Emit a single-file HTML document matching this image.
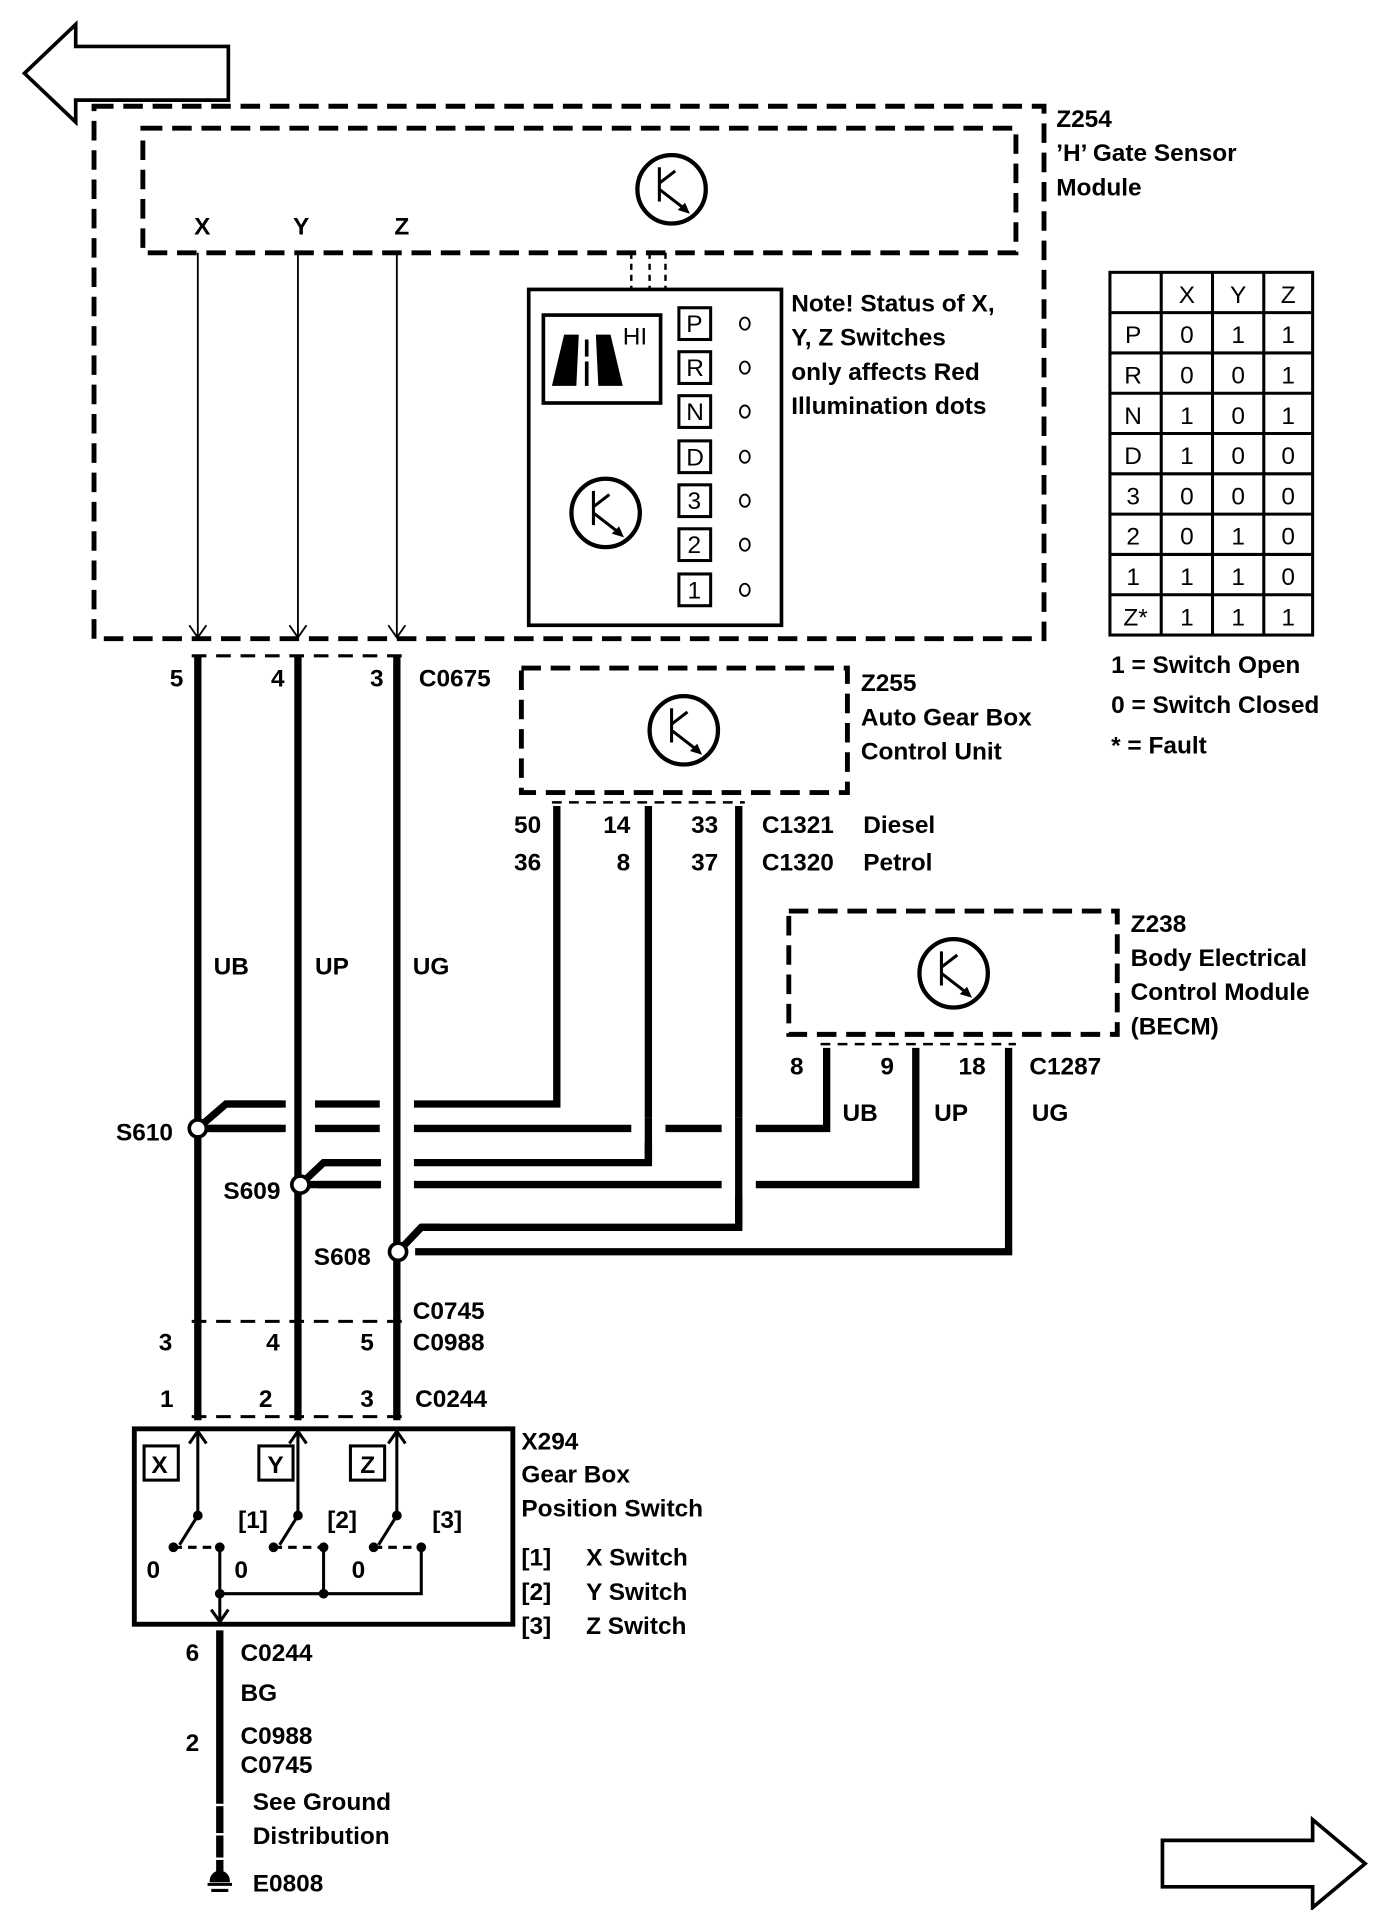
<!DOCTYPE html>
<html><head><meta charset="utf-8"><style>
html,body{margin:0;padding:0;background:#fff;}
svg{display:block}
text{font-family:"Liberation Sans",Arial,sans-serif;font-weight:bold;font-size:20px;fill:#000}
.r{font-weight:normal}
</style></head><body>
<svg width="1392" height="1910" viewBox="0 0 1140 1564" preserveAspectRatio="none" xmlns="http://www.w3.org/2000/svg">
<rect width="1140" height="1564" fill="#fff"/>
<g fill="none" stroke="#000">
<polygon points="20,60 62,20 62,38 187,38 187,82 62,82 62,100" stroke-width="3" fill="#fff"/>
<polygon points="1118,1526 1075,1490 1075,1507 952,1507 952,1545 1075,1545 1075,1562" stroke-width="3" fill="#fff"/>
<rect x="77" y="87" width="778" height="436" stroke-width="4" stroke-dasharray="16,8"/>
<rect x="117" y="105" width="715" height="102" stroke-width="4" stroke-dasharray="16,8"/>
<line x1="517" y1="207" x2="517" y2="237" stroke-width="2" stroke-dasharray="5,4"/>
<line x1="532" y1="207" x2="532" y2="237" stroke-width="2" stroke-dasharray="5,4"/>
<line x1="545" y1="207" x2="545" y2="237" stroke-width="2" stroke-dasharray="5,4"/>
<line x1="162" y1="207" x2="162" y2="522" stroke-width="1.5"/>
<line x1="244" y1="207" x2="244" y2="522" stroke-width="1.5"/>
<line x1="325" y1="207" x2="325" y2="522" stroke-width="1.5"/>
<polyline points="155,512 162,522 169,512" stroke-width="1.5"/>
<polyline points="237,512 244,522 251,512" stroke-width="1.5"/>
<polyline points="318,512 325,522 332,512" stroke-width="1.5"/>
<rect x="433" y="237" width="207" height="275" stroke-width="3"/>
<rect x="445" y="258" width="96" height="72" stroke-width="3"/>
</g>
<polygon points="462,274 474,274 472,316 452,316" fill="#000"/>
<polygon points="488,274 500,274 510,316 490,316" fill="#000"/>
<rect x="479" y="278" width="3" height="14" fill="#000"/><rect x="479" y="296" width="3" height="20" fill="#000"/>
<text x="510" y="282" class="r" font-size="14">HI</text>
<g fill="none" stroke="#000" stroke-width="3.5">
<circle cx="550" cy="155" r="28"/><circle cx="496" cy="420" r="28"/><circle cx="560" cy="598" r="28"/><circle cx="781" cy="797" r="28"/>
</g>
<g stroke="#000" stroke-width="2.5" fill="none">
<path d="M540,137 V165 M540,150 L553,140 M540,155 L562,172"/>
<path d="M486,402 V430 M486,415 L499,405 M486,420 L508,437"/>
<path d="M550,580 V608 M550,593 L563,583 M550,598 L572,615"/>
<path d="M771,779 V807 M771,792 L784,782 M771,797 L793,814"/>
</g>
<polygon points="565,175 555,172 561,166" fill="#000"/>
<polygon points="511,440 501,437 507,431" fill="#000"/>
<polygon points="575,618 565,615 571,609" fill="#000"/>
<polygon points="796,817 786,814 792,808" fill="#000"/>
<g fill="none" stroke="#000" stroke-width="2.5">
<rect x="556" y="252" width="26" height="26"/><rect x="556" y="288" width="26" height="26"/><rect x="556" y="324" width="26" height="26"/><rect x="556" y="361" width="26" height="26"/><rect x="556" y="397" width="26" height="26"/><rect x="556" y="433" width="26" height="26"/><rect x="556" y="470" width="26" height="26"/>
</g>
<g class="r" font-size="18">
<text x="562" y="272" class="r">P</text><text x="562" y="308" class="r">R</text><text x="562" y="344" class="r">N</text><text x="562" y="381" class="r">D</text><text x="563" y="417" class="r">3</text><text x="563" y="453" class="r">2</text><text x="563" y="490" class="r">1</text>
</g>
<g fill="none" stroke="#000" stroke-width="1.5">
<ellipse cx="610" cy="265" rx="4" ry="5"/><ellipse cx="610" cy="301" rx="4" ry="5"/><ellipse cx="610" cy="337" rx="4" ry="5"/><ellipse cx="610" cy="374" rx="4" ry="5"/><ellipse cx="610" cy="410" rx="4" ry="5"/><ellipse cx="610" cy="446" rx="4" ry="5"/><ellipse cx="610" cy="483" rx="4" ry="5"/>
</g>
<text x="159" y="192">X</text><text x="240" y="192">Y</text><text x="323" y="192">Z</text>
<text x="648" y="255">Note! Status of X,</text><text x="648" y="283">Y, Z Switches</text><text x="648" y="311">only affects Red</text><text x="648" y="339">Illumination dots</text>
<text x="865" y="104">Z254</text><text x="865" y="132">’H’ Gate Sensor</text><text x="865" y="160">Module</text>
<g stroke="#000" stroke-width="2.5" fill="none">
<rect x="909" y="223" width="166" height="297"/>
<line x1="951" y1="223" x2="951" y2="520"/><line x1="993" y1="223" x2="993" y2="520"/><line x1="1035" y1="223" x2="1035" y2="520"/>
<line x1="909" y1="256" x2="1075" y2="256"/><line x1="909" y1="289" x2="1075" y2="289"/><line x1="909" y1="322" x2="1075" y2="322"/><line x1="909" y1="355" x2="1075" y2="355"/><line x1="909" y1="388" x2="1075" y2="388"/><line x1="909" y1="421" x2="1075" y2="421"/><line x1="909" y1="454" x2="1075" y2="454"/><line x1="909" y1="487" x2="1075" y2="487"/>
</g>
<g font-size="20" text-anchor="middle">
<text class="r" x="972" y="248">X</text><text class="r" x="1014" y="248">Y</text><text class="r" x="1055" y="248">Z</text>
<text class="r" x="928" y="281">P</text><text class="r" x="972" y="281">0</text><text class="r" x="1014" y="281">1</text><text class="r" x="1055" y="281">1</text>
<text class="r" x="928" y="314">R</text><text class="r" x="972" y="314">0</text><text class="r" x="1014" y="314">0</text><text class="r" x="1055" y="314">1</text>
<text class="r" x="928" y="347">N</text><text class="r" x="972" y="347">1</text><text class="r" x="1014" y="347">0</text><text class="r" x="1055" y="347">1</text>
<text class="r" x="928" y="380">D</text><text class="r" x="972" y="380">1</text><text class="r" x="1014" y="380">0</text><text class="r" x="1055" y="380">0</text>
<text class="r" x="928" y="413">3</text><text class="r" x="972" y="413">0</text><text class="r" x="1014" y="413">0</text><text class="r" x="1055" y="413">0</text>
<text class="r" x="928" y="446">2</text><text class="r" x="972" y="446">0</text><text class="r" x="1014" y="446">1</text><text class="r" x="1055" y="446">0</text>
<text class="r" x="928" y="479">1</text><text class="r" x="972" y="479">1</text><text class="r" x="1014" y="479">1</text><text class="r" x="1055" y="479">0</text>
<text class="r" x="930" y="512">Z*</text><text class="r" x="972" y="512">1</text><text class="r" x="1014" y="512">1</text><text class="r" x="1055" y="512">1</text>
</g>
<text x="910" y="551">1 =  Switch Open</text><text x="910" y="584">0 =  Switch Closed</text><text x="910" y="617">* =  Fault</text>
<line x1="157" y1="537" x2="330" y2="537" stroke="#000" stroke-width="2.5" stroke-dasharray="12,8"/>
<text x="139" y="562">5</text><text x="222" y="562">4</text><text x="303" y="562">3</text><text x="343" y="562">C0675</text>
<rect x="427" y="547" width="267" height="102" fill="none" stroke="#000" stroke-width="4" stroke-dasharray="16,8"/>
<line x1="452" y1="657" x2="610" y2="657" stroke="#000" stroke-width="2" stroke-dasharray="8,6"/>
<text x="705" y="566">Z255</text><text x="705" y="594">Auto Gear Box</text><text x="705" y="622">Control Unit</text>
<text x="421" y="682">50</text><text x="494" y="682">14</text><text x="566" y="682">33</text><text x="624" y="682">C1321</text><text x="707" y="682">Diesel</text>
<text x="421" y="713">36</text><text x="505" y="713">8</text><text x="566" y="713">37</text><text x="624" y="713">C1320</text><text x="707" y="713">Petrol</text>
<rect x="646" y="746" width="269" height="101" fill="none" stroke="#000" stroke-width="4" stroke-dasharray="16,8"/>
<line x1="672" y1="855" x2="832" y2="855" stroke="#000" stroke-width="2" stroke-dasharray="8,6"/>
<text x="926" y="763">Z238</text><text x="926" y="791">Body Electrical</text><text x="926" y="819">Control Module</text><text x="926" y="847">(BECM)</text>
<text x="647" y="880">8</text><text x="721" y="880">9</text><text x="785" y="880">18</text><text x="843" y="880">C1287</text>
<text x="690" y="918">UB</text><text x="765" y="918">UP</text><text x="845" y="918">UG</text>
<text x="175" y="798">UB</text><text x="258" y="798">UP</text><text x="338" y="798">UG</text>
<g stroke="#000" stroke-width="6" fill="none">
<polyline points="185,904 456,904 456,660"/>
<polyline points="172,924 677,924 677,858"/>
<polyline points="265,952 531,952 531,660"/>
<polyline points="260,970 750,970 750,858"/>
<polyline points="345,1005 605,1005 605,660"/>
<polyline points="340,1025 826,1025 826,858"/>
</g>
<g stroke="#fff" stroke-width="28">
<line x1="244" y1="895" x2="244" y2="935"/>
<line x1="325" y1="895" x2="325" y2="980"/>
<line x1="531" y1="915" x2="531" y2="935"/>
<line x1="605" y1="915" x2="605" y2="980"/>
</g>
<g stroke="#000" stroke-width="6" fill="none">
<line x1="531" y1="915" x2="531" y2="952"/>
<line x1="605" y1="915" x2="605" y2="1005"/>
<line x1="162" y1="537" x2="162" y2="1163"/>
<line x1="244" y1="537" x2="244" y2="1163"/>
<line x1="325" y1="537" x2="325" y2="1163"/>
<polyline points="162,924 185,904 234,904"/><line x1="162" y1="924" x2="234" y2="924"/>
<polyline points="246,970 265,952 312,952"/><line x1="246" y1="970" x2="312" y2="970"/>
<polyline points="326,1025 345,1005 360,1005"/>
<line x1="180" y1="1335" x2="180" y2="1540"/>
</g>
<g fill="#fff" stroke="#000" stroke-width="3">
<circle cx="162" cy="924" r="7"/><circle cx="246" cy="970" r="7"/><circle cx="326" cy="1025" r="7"/>
</g>
<text x="95" y="934">S610</text><text x="183" y="982">S609</text><text x="257" y="1036">S608</text>
<line x1="157" y1="1082" x2="330" y2="1082" stroke="#000" stroke-width="2.5" stroke-dasharray="12,8"/>
<text x="338" y="1080">C0745</text><text x="338" y="1106">C0988</text>
<text x="130" y="1106">3</text><text x="218" y="1106">4</text><text x="295" y="1106">5</text>
<line x1="157" y1="1160" x2="330" y2="1160" stroke="#000" stroke-width="2.5" stroke-dasharray="12,8"/>
<text x="131" y="1152">1</text><text x="212" y="1152">2</text><text x="295" y="1152">3</text><text x="340" y="1152">C0244</text>
<rect x="110" y="1170" width="310" height="160" fill="none" stroke="#000" stroke-width="4"/>
<text x="427" y="1187">X294</text><text x="427" y="1214">Gear Box</text><text x="427" y="1242">Position Switch</text>
<text x="427" y="1282">[1]</text><text x="480" y="1282">X Switch</text>
<text x="427" y="1310">[2]</text><text x="480" y="1310">Y Switch</text>
<text x="427" y="1338">[3]</text><text x="480" y="1338">Z Switch</text>
<g fill="none" stroke="#000" stroke-width="2.5">
<rect x="118" y="1184" width="28" height="28"/><rect x="212" y="1184" width="28" height="28"/><rect x="287" y="1184" width="28" height="28"/>
<line x1="162" y1="1172" x2="162" y2="1241"/><line x1="244" y1="1172" x2="244" y2="1241"/><line x1="325" y1="1172" x2="325" y2="1241"/>
<polyline points="155,1182 162,1172 169,1182"/><polyline points="237,1182 244,1172 251,1182"/><polyline points="318,1182 325,1172 332,1182"/>
<line x1="162" y1="1241" x2="147" y2="1265"/><line x1="244" y1="1241" x2="229" y2="1265"/><line x1="325" y1="1241" x2="310" y2="1265"/>
<line x1="142" y1="1267" x2="180" y2="1267" stroke-dasharray="7,5"/><line x1="224" y1="1267" x2="265" y2="1267" stroke-dasharray="7,5"/><line x1="306" y1="1267" x2="345" y2="1267" stroke-dasharray="7,5"/>
<polyline points="180,1267 180,1305 345,1305 345,1267"/><line x1="265" y1="1267" x2="265" y2="1305"/>
<line x1="180" y1="1305" x2="180" y2="1328"/><polyline points="173,1318 180,1328 187,1318"/>
</g>
<text x="124" y="1206">X</text><text x="219" y="1206">Y</text><text x="295" y="1206">Z</text>
<text x="195" y="1251">[1]</text><text x="268" y="1251">[2]</text><text x="354" y="1251">[3]</text>
<g fill="#000">
<circle cx="162" cy="1241" r="4"/><circle cx="244" cy="1241" r="4"/><circle cx="325" cy="1241" r="4"/>
<circle cx="142" cy="1267" r="4"/><circle cx="224" cy="1267" r="4"/><circle cx="306" cy="1267" r="4"/>
<circle cx="180" cy="1267" r="4"/><circle cx="265" cy="1267" r="4"/><circle cx="345" cy="1267" r="4"/>
<circle cx="180" cy="1305" r="4"/><circle cx="265" cy="1305" r="4"/>
</g>
<text x="120" y="1292">0</text><text x="192" y="1292">0</text><text x="288" y="1292">0</text>
<text x="152" y="1360">6</text><text x="197" y="1360">C0244</text><text x="197" y="1393">BG</text>
<text x="152" y="1434">2</text><text x="197" y="1428">C0988</text><text x="197" y="1452">C0745</text>
<text x="207" y="1482">See Ground</text><text x="207" y="1510">Distribution</text><text x="207" y="1549">E0808</text>
<g stroke="#fff" stroke-width="2"><line x1="175" y1="1478" x2="185" y2="1478"/><line x1="175" y1="1502" x2="185" y2="1502"/><line x1="175" y1="1522" x2="185" y2="1522"/></g>
<g stroke="#000" stroke-width="2.5">
<path d="M173,1540 a7,7 0 0 1 14,0 z" fill="#000"/>
<line x1="170" y1="1543" x2="190" y2="1543"/><line x1="173" y1="1548" x2="187" y2="1548"/>
</g>
</svg>
</body></html>
